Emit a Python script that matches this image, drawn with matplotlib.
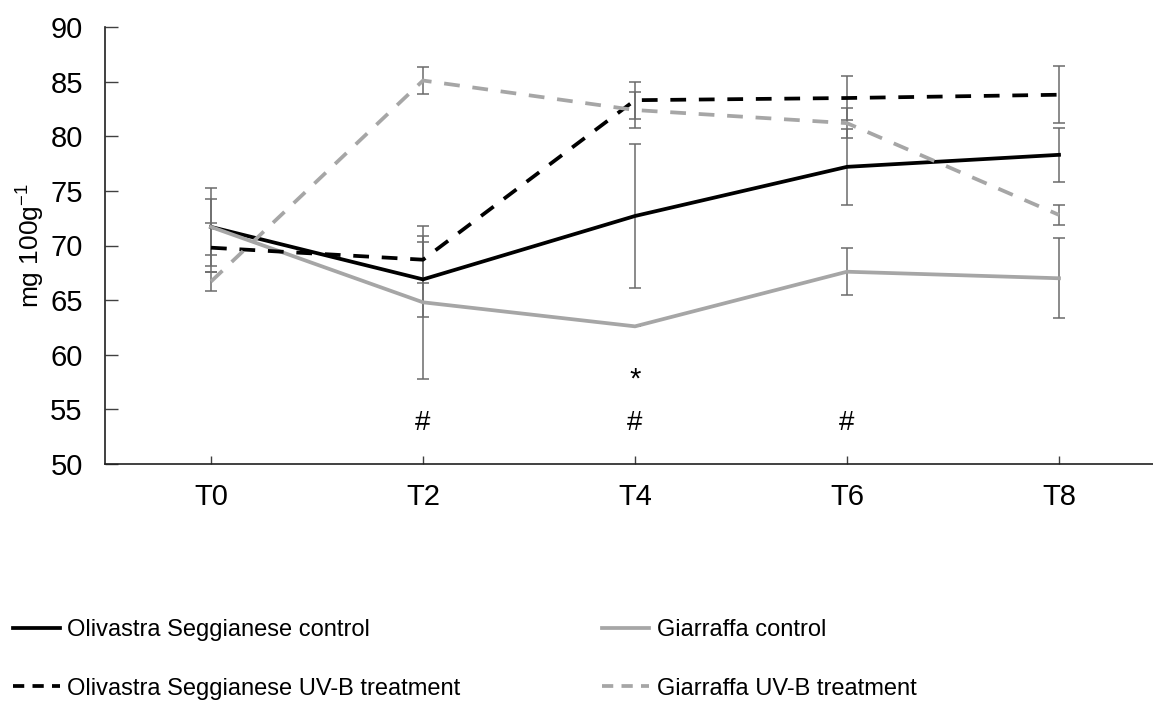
import matplotlib
matplotlib.use("Agg")
import matplotlib.pyplot as plt
from matplotlib.lines import Line2D

plt.rcParams['font.family'] = ['Liberation Sans', 'DejaVu Sans']
plt.rcParams['mathtext.fontset'] = 'custom'
plt.rcParams['mathtext.rm'] = 'Liberation Sans'

categories = ["T0", "T2", "T4", "T6", "T8"]

os_control = [71.7, 66.9, 72.7, 77.2, 78.3]
os_control_err = [3.55, 3.4, 6.6, 3.45, 2.45]
gia_control = [71.7, 64.8, 62.6, 67.6, 67.0]
gia_control_err = [2.6, 7.0, 0.0, 2.15, 3.65]
os_uv = [69.8, 68.7, 83.3, 83.5, 83.8]
os_uv_err = [2.25, 2.15, 1.7, 2.05, 2.6]
gia_uv = [66.7, 85.1, 82.4, 81.2, 72.8]
gia_uv_err = [0.9, 1.25, 1.65, 1.35, 0.9]

hash_positions = ["T2", "T4", "T6"]
star_positions = ["T4"]

labels = ["Olivastra Seggianese control", "Giarraffa control",
          "Olivastra Seggianese UV-B treatment", "Giarraffa UV-B treatment"]

BLACK = "#000000"
GRAY = "#a6a6a6"
ERR = "#6b6b6b"

fig = plt.figure(figsize=(11.53, 7.11), dpi=100)
W, H = 1153, 711
ax = fig.add_axes([105 / W, (H - 464) / H, 1060 / W, (464 - 27) / H])

x = list(range(len(categories)))
lw = 2.7
dash = (4.2, 3.4)

series = [
    (os_control, os_control_err, BLACK, None),
    (gia_control, gia_control_err, GRAY, None),
    (os_uv, os_uv_err, BLACK, dash),
    (gia_uv, gia_uv_err, GRAY, dash),
]

for vals, errs, col, ds in series:
    ax.errorbar(x, vals, yerr=errs, fmt='none', ecolor=ERR, elinewidth=1.1,
                capsize=4.5, capthick=1.1, zorder=2)
for vals, errs, col, ds in series:
    if ds is None:
        ax.plot(x, vals, color=col, lw=lw, zorder=3, solid_joinstyle='round')
    else:
        ax.plot(x, vals, color=col, lw=lw, zorder=3, dashes=ds,
                dash_capstyle='butt')

for c in hash_positions:
    ax.text(categories.index(c), 53.75, "#", ha='center', va='center', fontsize=20)
for c in star_positions:
    ax.text(categories.index(c), 57.7, "*", ha='center', va='center', fontsize=21)

ax.set_xlim(-0.5, len(categories) - 0.5)
ax.set_ylim(50, 90)
ax.set_yticks(range(50, 91, 5))
ax.set_xticks(x)
ax.set_xticklabels(categories)
ax.tick_params(axis='both', direction='in', labelsize=21, width=1, color='#404040')
ax.tick_params(axis='y', length=9, pad=16)
ax.tick_params(axis='x', length=6, pad=14)
for s in ['top', 'right']:
    ax.spines[s].set_visible(False)
for s in ['left', 'bottom']:
    ax.spines[s].set_linewidth(1.2)
    ax.spines[s].set_color('#202020')

ax.set_ylabel(r"mg 100g$^{\mathregular{-1}}$", fontsize=19, labelpad=3)

handles = [
    Line2D([], [], color=BLACK, lw=lw),
    Line2D([], [], color=BLACK, lw=lw, dashes=(3.0, 2.2), dash_capstyle='butt'),
    Line2D([], [], color=GRAY, lw=lw),
    Line2D([], [], color=GRAY, lw=lw, dashes=(3.0, 2.2), dash_capstyle='butt'),
]
leg_labels = [labels[0], labels[2], labels[1], labels[3]]
fig.legend(handles, leg_labels, ncol=2, loc='upper left',
           bbox_to_anchor=(13 / W, (H - 619) / H), frameon=False,
           fontsize=17, handlelength=2.0, handletextpad=0.3,
           columnspacing=6.0, labelspacing=1.55, borderpad=0, borderaxespad=0)

fig.savefig("out.png", dpi=100)
